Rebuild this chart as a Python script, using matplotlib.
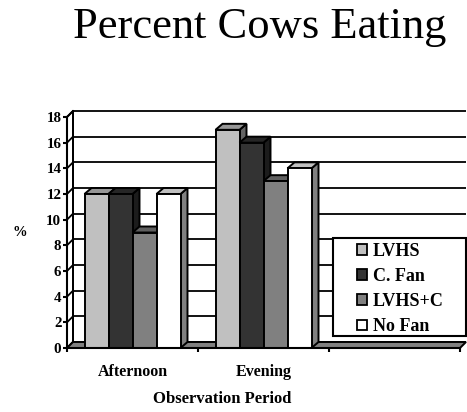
import matplotlib
matplotlib.use('Agg')
import matplotlib.pyplot as plt
from matplotlib.patches import Polygon, Rectangle, Patch
from matplotlib.font_manager import FontProperties

# ---------------- data ----------------
categories = ['Afternoon', 'Evening', '']
series = ['LVHS', 'C. Fan', 'LVHS+C', 'No Fan']
afternoon = [12, 12, 9, 12]
evening = [17, 16, 13, 14]
values = [afternoon, evening]          # third category has no data
yticks = [0, 2, 4, 6, 8, 10, 12, 14, 16, 18]

front_colors = ['#c0c0c0', '#333333', '#808080', '#ffffff']
top_colors = ['#969696', '#262626', '#5f5f5f', '#c0c0c0']
side_colors = ['#646464', '#1c1c1c', '#4d4d4d', '#808080']

SERIF = 'Liberation Serif'

# ---------------- figure ----------------
W, H = 467, 412
fig = plt.figure(figsize=(W / 100, H / 100), dpi=100)
fig.patch.set_facecolor('white')
ax = fig.add_axes([67 / W, 64 / H, 393 / W, 231 / H])
ax.set_xlim(0, len(categories))
ax.set_ylim(0, max(yticks))
ax.patch.set_visible(False)

px_x = len(categories) / 393.0
px_y = max(yticks) / 231.0
DX, DY = 6 * px_x, 6 * px_y          # wall depth
BDX, BDY = 7 * px_x, 6 * px_y        # bar depth
BW = 24 * px_x                       # bar width
XR = 3 + 6 * px_x                    # right end of back wall
YT = max(yticks)
LW = 1.4

# back wall
ax.add_patch(Rectangle((DX, DY), XR - DX, YT, facecolor='white', edgecolor='none',
                       zorder=0.5, clip_on=False))
# left wall
ax.add_patch(Polygon([(0, 0), (0, YT), (DX, YT + DY), (DX, DY)], closed=True,
                     facecolor='white', edgecolor='black', lw=LW, zorder=0.6, clip_on=False))
# gridlines on back wall + diagonals on left wall
for v in yticks:
    ax.plot([DX, XR], [v + DY, v + DY], color='black', lw=1.3, zorder=0.7,
            clip_on=False, solid_capstyle='butt')
    ax.plot([0, DX], [v, v + DY], color='black', lw=1.3, zorder=0.7, clip_on=False)
ax.plot([DX, DX], [DY, YT + DY], color='black', lw=LW, zorder=0.8, clip_on=False)

# floor
ax.add_patch(Polygon([(0, 0), (3, 0), (3 + DX, DY), (DX, DY)], closed=True,
                     facecolor='#808080', edgecolor='black', lw=LW, zorder=1,
                     clip_on=False))

# bars
z = 2.0
for i, group in enumerate(values):
    for j, v in enumerate(group):
        x0 = i + 0.5 + (j - len(series) / 2) * BW
        x1 = x0 + BW
        ax.add_patch(Polygon([(x1, 0), (x1, v), (x1 + BDX, v + BDY), (x1 + BDX, BDY)],
                             closed=True, facecolor=side_colors[j], edgecolor='black',
                             lw=LW, zorder=z, clip_on=False, joinstyle='miter'))
        ax.add_patch(Polygon([(x0, v), (x1, v), (x1 + BDX, v + BDY), (x0 + BDX, v + BDY)],
                             closed=True, facecolor=top_colors[j], edgecolor='black',
                             lw=LW, zorder=z + 0.01, clip_on=False, joinstyle='miter'))
        ax.bar(x0, v, width=BW, align='edge', color=front_colors[j], edgecolor='black',
               lw=LW, zorder=z + 0.02, clip_on=False)
        z += 0.1

# spines / axes
for s in ['top', 'right']:
    ax.spines[s].set_visible(False)
for s in ['left', 'bottom']:
    ax.spines[s].set_linewidth(1.5)
    ax.spines[s].set_zorder(10)

tick_font = FontProperties(family=SERIF, weight='bold', size=10.8)
ax.set_yticks(yticks)
ax.set_yticklabels([str(v) for v in yticks], fontproperties=tick_font)
ax.tick_params(axis='y', direction='out', length=3, width=1.5, pad=1)

ax.set_xticks([0, 1, 2, 3])
ax.set_xticklabels([])
ax.set_xticks([k + 0.5 for k in range(len(categories))], minor=True)
ax.set_xticklabels(categories, minor=True,
                   fontproperties=FontProperties(family=SERIF, weight='bold', size=11.5))
ax.tick_params(axis='x', which='major', direction='out', length=3, width=1.5)
ax.tick_params(axis='x', which='minor', length=0, pad=11.5)

ax.set_xlabel('Observation Period',
              fontproperties=FontProperties(family=SERIF, weight='bold', size=12),
              va='baseline')
ax.xaxis.set_label_coords((222 - 67) / 393, -(403 - 348) / 231)
ax.set_ylabel('%', fontproperties=FontProperties(family=SERIF, weight='bold', size=10.5),
              rotation=0, va='center', ha='center')
ax.yaxis.set_label_coords((19.5 - 67) / 393, (348 - 233) / 231)

fig.text(260 / W, 1 - 38 / H, 'Percent Cows Eating', ha='center', va='baseline',
         family=SERIF, fontsize=32)

# legend
ax.add_patch(Rectangle((333 / W, 1 - 336 / H), (466 - 333) / W, (336 - 238) / H,
                       transform=fig.transFigure, facecolor='white', edgecolor='black',
                       lw=1.5, zorder=20, clip_on=False))
handles = [Patch(facecolor=c, edgecolor='black', lw=1.3) for c in front_colors]
leg = ax.legend(handles, series, loc='upper left', bbox_to_anchor=(357 / W, 1 - 243 / H),
                bbox_transform=fig.transFigure, frameon=False,
                prop=FontProperties(family=SERIF, weight='bold', size=13),
                handlelength=0.55, handleheight=0.55, handletextpad=0.33,
                labelspacing=0.45, borderpad=0, borderaxespad=0)
leg.set_zorder(30)

fig.savefig('out.png', dpi=100)
